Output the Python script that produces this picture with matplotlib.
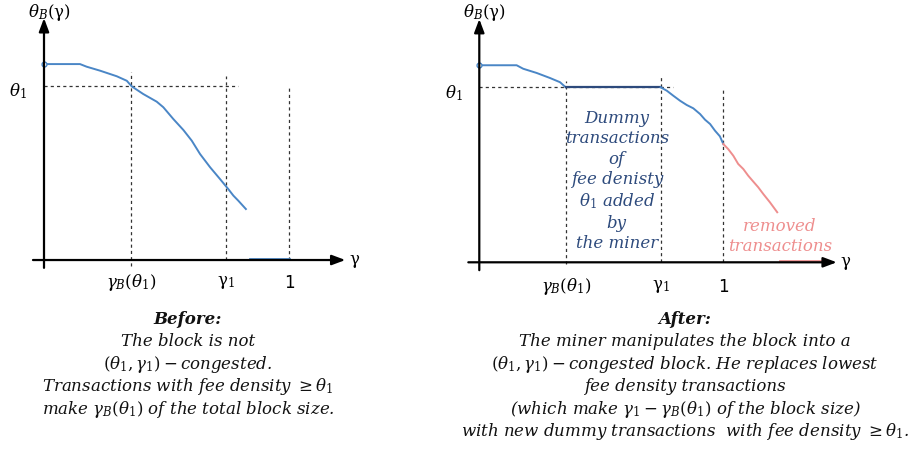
import matplotlib.pyplot as plt

plt.rcParams['font.family'] = ['DejaVu Serif']
plt.rcParams['mathtext.fontset'] = 'dejavuserif'

# values (gamma = share of block, theta = fee density, theta1 = 1)
gamma_b = 0.355
gamma_1 = 0.743

before_g = [0.0, 0.147, 0.174, 0.229, 0.297, 0.338, 0.358, 0.405, 0.460, 0.487, 0.528,
            0.569, 0.603, 0.637, 0.678, 0.718, 0.752, 0.773, 0.793, 0.824]
before_t = [1.126, 1.126, 1.111, 1.088, 1.056, 1.030, 0.998, 0.954, 0.910, 0.878, 0.810,
            0.747, 0.686, 0.609, 0.533, 0.466, 0.408, 0.370, 0.341, 0.293]

after_top_g = [0.0, 0.153, 0.180, 0.235, 0.290, 0.331, 0.354]
after_top_t = [1.126, 1.126, 1.106, 1.082, 1.053, 1.029, 1.0]
dummy_g = [0.354, 0.743]
dummy_t = [1.0, 1.0]
after_kept_g = [0.743, 0.768, 0.795, 0.823, 0.850, 0.877, 0.905, 0.925, 0.946, 0.966, 0.986, 1.0]
after_kept_t = [1.0, 0.981, 0.952, 0.923, 0.899, 0.880, 0.847, 0.815, 0.790, 0.752, 0.720, 0.676]
removed_g = [1.0, 1.020, 1.041, 1.061, 1.082, 1.102, 1.123, 1.143, 1.164, 1.191, 1.221]
removed_t = [0.676, 0.647, 0.609, 0.562, 0.533, 0.495, 0.461, 0.429, 0.390, 0.343, 0.286]

blue = '#4A86C6'
navy = '#2D4A7C'
pink = '#EE8E8E'

fig = plt.figure(figsize=(9.19, 4.52), dpi=100)
ax1 = fig.add_axes([0, 152 / 452, 420 / 919, 300 / 452])
ax2 = fig.add_axes([420 / 919, 152 / 452, 499 / 919, 300 / 452])
ax1.set_xlim(-0.1796, 1.5347)
ax1.set_ylim(-0.224, 1.5)
ax2.set_xlim(-0.243, 1.802)
ax2.set_ylim(-0.2097, 1.5046)

dash = dict(color='#333333', lw=0.9, ls=(0, (2.5, 2.5)))


def axes_arrows(ax, xend, top_y, th_y):
    arr = dict(arrowstyle='-|>,head_length=0.8,head_width=0.3', color='black', lw=1.6,
               shrinkA=0, shrinkB=0)
    ax.annotate('', xy=(xend, 0), xytext=(-0.045, 0), arrowprops=arr)
    ax.annotate('', xy=(0, 1.39), xytext=(0, -0.045), arrowprops=arr)
    ax.text(0.02, top_y, r'$\theta_B(\mathrm{\gamma})$', fontsize=12, ha='center', va='center')
    ax.text(xend + 0.015, 0, r'$\mathrm{\gamma}$', fontsize=12, ha='left', va='center')
    ax.text(-0.105, th_y, r'$\theta_1$', fontsize=12, ha='center', va='center')
    ax.set_axis_off()


# ---- before ----
ax = ax1
axes_arrows(ax, 1.23, 1.43, 0.977)
ax.plot([0, 0.793], [1, 1], **dash)
ax.plot([gamma_b, gamma_b], [-0.033, 1.079], **dash)
ax.plot([gamma_1, gamma_1], [0, 1.059], **dash)
ax.plot([1, 1], [0, 1.0], **dash)
ax.plot(before_g, before_t, color=blue, lw=1.4)
ax.plot([0], [1.126], marker='o', ms=3.5, mfc='white', mec=blue, mew=1)
ax.plot([0.84, 1.0], [0.005, 0.005], color=blue, lw=2)
ax.text(gamma_b, -0.125, r'$\gamma_B(\theta_1)$', fontsize=12, ha='center', va='center')
ax.text(gamma_1, -0.125, r'$\mathrm{\gamma}_1$', fontsize=12, ha='center', va='center')
ax.text(1.0, -0.125, '1', fontsize=12, ha='center', va='center', family='DejaVu Sans')

# ---- after ----
ax = ax2
axes_arrows(ax, 1.465, 1.435, 0.973)
ax.plot([0, 0.795], [1, 1], **dash)
ax.plot([gamma_b, gamma_b], [-0.01, 1.038], **dash)
ax.plot([gamma_1, gamma_1], [0, 1.057], **dash)
ax.plot([1, 1], [0, 1.0], **dash)
ax.plot(after_top_g, after_top_t, color=blue, lw=1.4)
ax.plot(dummy_g, dummy_t, color=navy, lw=1.6)
ax.plot(after_kept_g, after_kept_t, color=blue, lw=1.4)
ax.plot(removed_g, removed_t, color=pink, lw=1.4)
ax.plot([0], [1.126], marker='o', ms=3.5, mfc='white', mec=blue, mew=1)
ax.plot([1.232, 1.396], [0.005, 0.005], color=pink, lw=2)
ax.text(gamma_b, -0.135, r'$\gamma_B(\theta_1)$', fontsize=12, ha='center', va='center')
ax.text(gamma_1, -0.135, r'$\mathrm{\gamma}_1$', fontsize=12, ha='center', va='center')
ax.text(1.0, -0.135, '1', fontsize=12, ha='center', va='center', family='DejaVu Sans')
ax.text(0.563, 0.47,
        'Dummy\ntransactions\nof\nfee denisty\n' + r'$\theta_1$' + ' added\nby\nthe miner',
        fontsize=12, style='italic', color=navy, ha='center', va='center', linespacing=1.25)
ax.text(1.232, 0.152, 'removed\ntransactions', fontsize=12, style='italic', color=pink,
        ha='center', va='center', linespacing=1.2)

# ---- captions ----
def caption(xc, lines):
    y0 = 319
    for i, s in enumerate(lines):
        kw = dict(fontsize=12, style='italic', ha='center', va='center', color='#111111')
        if i == 0:
            kw['weight'] = 'bold'
        fig.text(xc / 919, 1 - (y0 + i * 22.6) / 452, s, **kw)


caption(188, ['Before:',
              'The block is not',
              r'$(\theta_1,\gamma_1) - $congested.',
              r'Transactions with fee density $\geq \theta_1$',
              r'make $\gamma_B(\theta_1)$ of the total block size.'])
caption(685, ['After:',
              'The miner manipulates the block into a',
              r'$(\theta_1,\gamma_1) - $congested block. He replaces lowest',
              'fee density transactions',
              r'(which make $\gamma_1 - \gamma_B(\theta_1)$ of the block size)',
              r'with new dummy transactions  with fee density $\geq \theta_1$.'])

fig.savefig('out.png', dpi=100)
